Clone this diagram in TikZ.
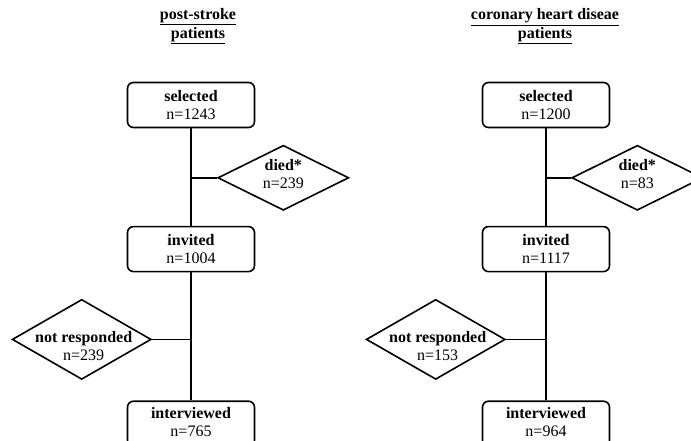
\documentclass[tikz,border=0pt]{standalone}
\usepackage{fontspec}
\setmainfont{Liberation Serif}
\usepackage{tikz}
\usetikzlibrary{shapes,arrows,positioning}

\begin{document}
\begin{tikzpicture}[
    x=1pt, y=1pt,
    font=\fontsize{16}{18}\selectfont,
    stage/.style={rectangle, draw, rounded corners=6pt, line width=1.6pt, minimum width=127pt, minimum height=45pt, inner sep=0pt, align=center},
    drop/.style={diamond, draw, line width=1.6pt, minimum width=131pt, minimum height=65pt, inner sep=0pt},
    bigdrop/.style={drop, minimum width=139pt, minimum height=80pt},
    label/.style={align=center, inner sep=0pt},
    title/.style={align=center, font=\fontsize{16}{19}\selectfont\bfseries},
    flow/.style={line width=1.6pt}
]
    \useasboundingbox (0,0) rectangle (691,-440);

    % Post-stroke patients
    \node[title] (head1) at (198,-26.5) {\underline{post-stroke}\\\underline{patients}};
    \node[stage] (sel1) at (191,-105) {\textbf{selected}\\n=1243};
    \coordinate[below=49.5pt of sel1.south] (j1a);
    \node[drop, right=26pt of j1a] (died1) {};
    \node[label] (died1txt) at ([yshift=4pt]died1.center) {\textbf{died*}\\n=239};
    \node[stage, below=97.5pt of sel1] (inv1) {\textbf{invited}\\n=1004};
    \coordinate[below=67pt of inv1.south] (j1b);
    \node[bigdrop, left=39pt of j1b] (nr1) {};
    \node[label] (nr1txt) at ([xshift=2pt, yshift=-7pt]nr1.center) {\textbf{not responded}\\n=239};
    \node[stage, below=128pt of inv1] (int1) {};
    \node[label] (int1txt) at ([yshift=2pt]int1.center) {\textbf{interviewed}\\n=765};

    % Coronary heart disease patients
    \node[title] (head2) at (545,-26.5) {\underline{coronary heart diseae}\\\underline{patients}};
    \node[stage] (sel2) at (546,-105) {\textbf{selected}\\n=1200};
    \coordinate[below=49.5pt of sel2.south] (j2a);
    \node[drop, right=25pt of j2a] (died2) {};
    \node[label] (died2txt) at ([yshift=4pt]died2.center) {\textbf{died*}\\n=83};
    \node[stage, below=97.5pt of sel2] (inv2) {\textbf{invited}\\n=1117};
    \coordinate[below=67pt of inv2.south] (j2b);
    \node[bigdrop, left=40pt of j2b] (nr2) {};
    \node[label] (nr2txt) at ([xshift=2pt, yshift=-7pt]nr2.center) {\textbf{not responded}\\n=153};
    \node[stage, below=128pt of inv2] (int2) {};
    \node[label] (int2txt) at ([yshift=2pt]int2.center) {\textbf{interviewed}\\n=964};

    % Connectors
    \draw[flow] (sel1) -- (inv1);
    \draw[flow] (inv1) -- (int1);
    \draw[flow] (j1a) -- (died1);
    \draw[flow] (j1b) -- (nr1);
    \draw[flow] (sel2) -- (inv2);
    \draw[flow] (inv2) -- (int2);
    \draw[flow] (j2a) -- (died2);
    \draw[flow] (j2b) -- (nr2);
\end{tikzpicture}
\end{document}
